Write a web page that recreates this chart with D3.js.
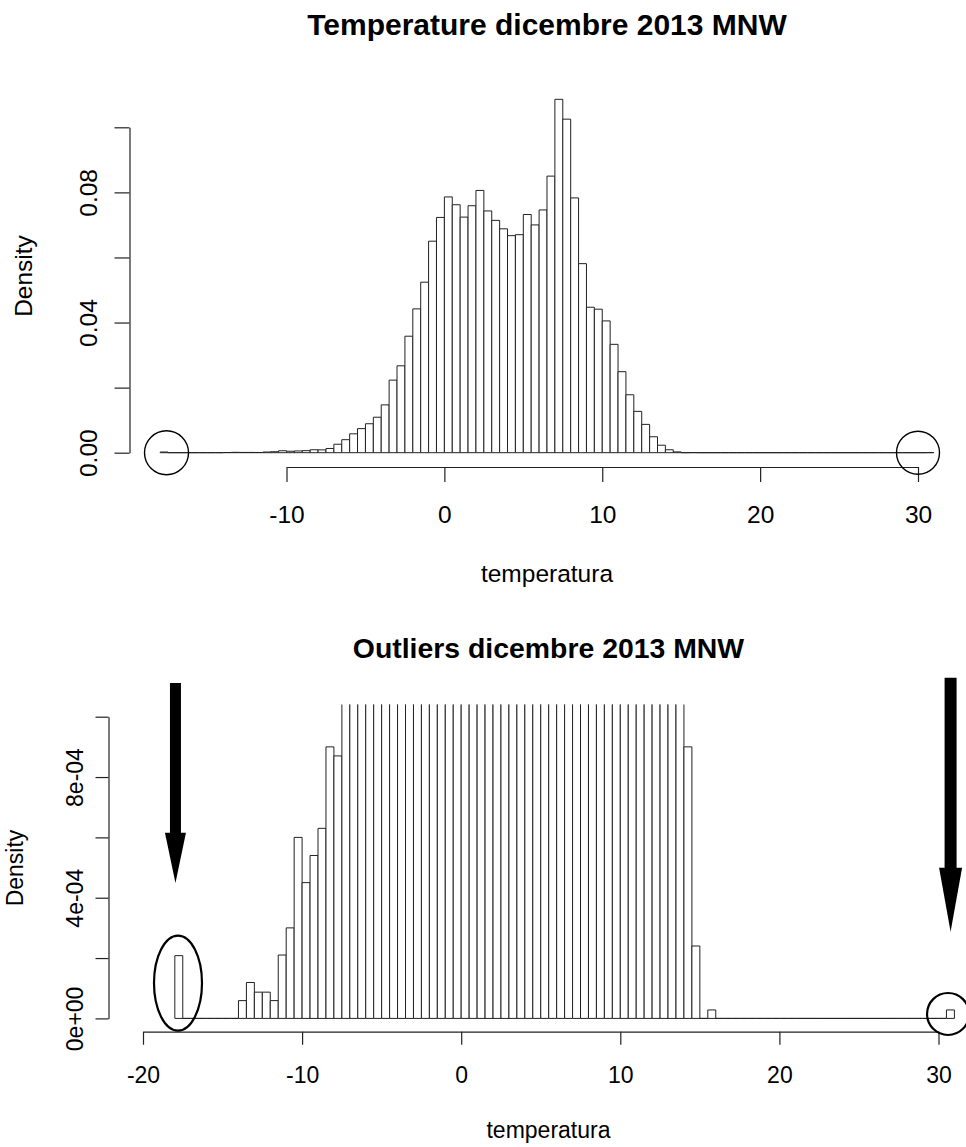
<!DOCTYPE html>
<html>
<head>
<meta charset="utf-8">
<script src="https://cdn.jsdelivr.net/npm/d3@7"></script>
<style>
  body { margin: 0; background: #fff; }
  svg { display: block; }
  text { font-family: "Liberation Sans", Arial, Helvetica, sans-serif; fill: #000; }
</style>
</head>
<body>
<svg id="chart" width="966" height="1147"></svg>
<script>
// Histogram of December 2013 temperatures (MNW), bins of 0.5 degrees starting at -18.
const binStart = -18;
const binWidth = 0.5;

// densities, -18 .. -7.5
const leftTail = [
  2.08e-4, 0, 0, 0, 0, 0, 0, 0,
  5.9e-5, 1.19e-4, 8.7e-5, 8.7e-5, 5.9e-5, 2.1e-4, 3.0e-4, 6.0e-4,
  4.5e-4, 5.4e-4, 6.3e-4, 9.0e-4, 8.7e-4
];
// densities, -7.5 .. 15
const bulk = [
  0.0013, 0.0026, 0.0040, 0.0058, 0.0074, 0.0089, 0.0109, 0.0147,
  0.0223, 0.0267, 0.0358, 0.0442, 0.0524, 0.0650, 0.0723,
  0.0786, 0.0762, 0.0724, 0.0759, 0.0806, 0.0743, 0.0714, 0.0688,
  0.0667, 0.0670, 0.0732, 0.0700, 0.0746, 0.0850, 0.1086, 0.1025,
  0.0783, 0.0581, 0.0447, 0.0441, 0.0405, 0.0333, 0.0249, 0.0178,
  0.0127, 0.0087, 0.0049, 0.0023, 9.0e-4, 2.4e-4
];
// densities, 15 .. 31
const rightTail = [
  0, 2.8e-5,
  0, 0, 0, 0, 0, 0, 0, 0, 0, 0,
  0, 0, 0, 0, 0, 0, 0, 0, 0, 0,
  0, 0, 0, 0, 0, 0, 0, 0, 0,
  2.8e-5
];
const density = leftTail.concat(bulk, rightTail);

const xTicks = [-10, 0, 10, 20, 30];
const xTicksOutliers = [-20, -10, 0, 10, 20, 30];
const yTicks = [0, 0.02, 0.04, 0.06, 0.08, 0.10];
const yLabelled = [0, 0.04, 0.08];
const yTicksOutliers = [0, 2e-4, 4e-4, 6e-4, 8e-4, 1e-3];
const yLabelledOutliers = [0, 4e-4, 8e-4];

const bins = density.map((d, i) => ({
  x0: binStart + i * binWidth,
  x1: binStart + (i + 1) * binWidth,
  d
}));

// R style scientific labels: 4e-04, 0e+00
function sci(v) {
  const [m, e] = v.toExponential(0).split("e");
  const n = Math.abs(+e);
  return m + "e" + (+e < 0 ? "-" : "+") + (n < 10 ? "0" + n : n);
}
// plain integers with an ASCII hyphen for negatives
const plain = v => String(v);

const svg = d3.select("#chart");

function drawPanel(p) {
  const g = svg.append("g");
  const x = p.x, y = p.y;

  if (p.clipTop != null) {
    svg.append("clipPath").attr("id", p.id + "-clip")
      .append("rect")
      .attr("x", 0).attr("y", p.clipTop)
      .attr("width", 966).attr("height", y(0) - p.clipTop + 30);
  }

  const bars = g.append("g")
    .attr("clip-path", p.clipTop != null ? `url(#${p.id}-clip)` : null);
  bars.selectAll("path").data(bins).join("path")
    .attr("d", b => `M${x(b.x0)},${y(0)}V${y(b.d)}H${x(b.x1)}V${y(0)}Z`)
    .attr("fill", "#fff")
    .attr("stroke", "#222")
    .attr("stroke-width", 1);

  // x axis
  const ax = g.append("g")
    .attr("transform", `translate(0,${p.xAxisY})`)
    .call(d3.axisBottom(x).tickValues(p.xTicks).tickSize(p.tickLen).tickSizeOuter(0).tickFormat(plain));
  ax.selectAll("path, line").attr("stroke", "#222").attr("stroke-width", 1.2);
  ax.selectAll("text")
    .attr("y", p.xLabelOff).attr("dy", 0)
    .style("font-size", p.fontSize + "px")
    .style("font-family", '"Liberation Sans", Arial, sans-serif')
    .attr("fill", "#000");
  ax.attr("font-family", null).attr("font-size", null);

  // y axis
  const ay = g.append("g")
    .attr("transform", `translate(${p.yAxisX},0)`)
    .call(d3.axisLeft(y).tickValues(p.yTicks).tickSize(p.tickLen).tickSizeOuter(0)
      .tickFormat(v => p.yLabelled.some(l => Math.abs(l - v) < 1e-12) ? p.yFormat(v) : ""));
  ay.selectAll("path, line").attr("stroke", "#222").attr("stroke-width", 1.2);
  ay.selectAll("text")
    .attr("x", null).attr("dy", 0)
    .attr("text-anchor", "middle")
    .attr("transform", `translate(${-p.yLabelOff},0) rotate(-90)`)
    .style("font-size", p.fontSize + "px")
    .style("font-family", '"Liberation Sans", Arial, sans-serif')
    .attr("fill", "#000");
  ay.attr("font-family", null).attr("font-size", null);

  // titles
  g.append("text")
    .attr("x", p.titleX).attr("y", p.titleY)
    .attr("text-anchor", "middle")
    .style("font-size", p.titleSize + "px")
    .style("font-weight", "bold")
    .text(p.title);
  g.append("text")
    .attr("x", p.titleX).attr("y", p.xTitleY)
    .attr("text-anchor", "middle")
    .style("font-size", p.fontSize + "px")
    .text("temperatura");
  g.append("text")
    .attr("transform", `translate(${p.yTitleX},${p.yTitleCY}) rotate(-90)`)
    .attr("text-anchor", "middle")
    .style("font-size", p.fontSize + "px")
    .text("Density");

  // highlight rings
  g.selectAll("ellipse.ring").data(p.rings).join("ellipse")
    .attr("class", "ring")
    .attr("cx", r => x(r.x)).attr("cy", r => y(r.y))
    .attr("rx", r => r.rx).attr("ry", r => r.ry)
    .attr("fill", "none").attr("stroke", "#000").attr("stroke-width", r => r.w);

  // pointer arrows
  (p.arrows || []).forEach(a => {
    const cx = x(a.x);
    g.append("line")
      .attr("x1", cx).attr("x2", cx)
      .attr("y1", y(a.from)).attr("y2", y(a.headBase) + 2)
      .attr("stroke", "#000").attr("stroke-width", a.shaft);
    g.append("path")
      .attr("d", `M${cx - a.headHalf},${y(a.headBase)}L${cx + a.headHalf},${y(a.headBase)}L${cx},${y(a.tip)}Z`)
      .attr("fill", "#000");
  });
}

// full distribution
drawPanel({
  id: "temp",
  x: d3.scaleLinear([-10, 30], [286.5, 918]),
  y: d3.scaleLinear([0, 0.10], [452.7, 127.3]),
  xTicks, yTicks, yLabelled,
  yFormat: d3.format(".2f"),
  xAxisY: 467, yAxisX: 129.5, tickLen: 15,
  xLabelOff: 56, yLabelOff: 33,
  fontSize: 24.5,
  title: "Temperature dicembre 2013 MNW", titleSize: 30, titleX: 547, titleY: 35,
  xTitleY: 582, yTitleX: 32, yTitleCY: 276,
  rings: [
    { x: -17.6, y: 0, rx: 22, ry: 22, w: 1.4 },
    { x: 30, y: 0, rx: 21.5, ry: 21.5, w: 1.4 }
  ]
});

// zoom on the low densities, where the outliers show up
drawPanel({
  id: "outl",
  x: d3.scaleLinear([-20, 30], [143, 938.5]),
  y: d3.scaleLinear([0, 1e-3], [1018.4, 716.7]),
  xTicks: xTicksOutliers, yTicks: yTicksOutliers, yLabelled: yLabelledOutliers,
  yFormat: sci,
  clipTop: 704.5,
  xAxisY: 1031.7, yAxisX: 108.5, tickLen: 13,
  xLabelOff: 51.5, yLabelOff: 25.5,
  fontSize: 23,
  title: "Outliers dicembre 2013 MNW", titleSize: 28.4, titleX: 548.5, titleY: 658,
  xTitleY: 1138, yTitleX: 23, yTitleCY: 868,
  rings: [
    { x: -17.8, y: 1.17e-4, rx: 24, ry: 47.5, w: 2.2 },
    { x: 30.6, y: 1.46e-5, rx: 21, ry: 21, w: 2.2 }
  ],
  arrows: [
    { x: -17.96, from: 1.112e-3, headBase: 6.15e-4, tip: 4.49e-4, shaft: 11, headHalf: 10.5 },
    { x: 30.76, from: 1.129e-3, headBase: 4.99e-4, tip: 2.87e-4, shaft: 12, headHalf: 11.5 }
  ]
});
</script>
</body>
</html>
